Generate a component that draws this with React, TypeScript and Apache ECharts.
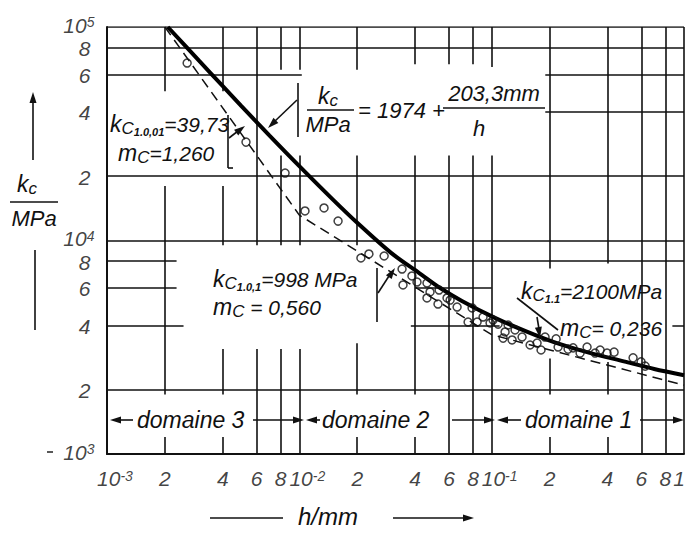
import React, { useEffect, useRef } from "react";
import * as echarts from "echarts";

const FONT = "'Liberation Sans', Arial, sans-serif";
const INK = "#111";

// ---- axis ticks (log-log) ----
const xTickValues = [1e-3, 2e-3, 4e-3, 6e-3, 8e-3, 1e-2, 2e-2, 4e-2, 6e-2, 8e-2, 1e-1, 2e-1, 4e-1, 6e-1, 8e-1, 1];
const xTickLabels = ["10^-3", "2", "4", "6", "8", "10^-2", "2", "4", "6", "8", "10^-1", "2", "4", "6", "8", "1"];
const yTickValues = [1e5, 8e4, 6e4, 4e4, 2e4, 1e4, 8e3, 6e3, 4e3, 2e3, 1e3];
const yTickLabels = ["10^5", "8", "6", "4", "2", "10^4", "8", "6", "4", "2", "10^3"];

// ---- thick curve kc/MPa = 1974 + 203,3mm/h ----
const curveH = [2.07e-3, 3e-3, 4e-3, 5e-3, 7e-3, 1e-2, 1.5e-2, 2e-2, 3e-2, 4.2e-2, 5.4e-2, 7e-2, 0.104, 0.149, 0.209, 0.313, 0.5, 0.7, 1.0];
const curveKc = [100000, 69700, 52800, 42600, 31000, 22300, 15500, 12100, 8750, 7040, 5990, 5210, 4340, 3770, 3350, 3000, 2700, 2500, 2340];

// ---- dashed Kienzle straight lines (domain 3, 2, 1) ----
const kienzleH = [2e-3, 1e-2, 1e-1, 1];
const kienzleKc = [100000, 13150, 3620, 2100];

// ---- measured points (circles) ----
const measH = [
  2.61e-3, 5.28e-3, 8.43e-3, 1.07e-2, 1.344e-2, 1.59e-2, 2.09e-2, 2.3e-2, 2.76e-2, 3.42e-2,
  3.85e-2, 3.46e-2, 4.09e-2, 4.61e-2, 4.78e-2, 5.33e-2, 4.61e-2, 5.26e-2, 6.08e-2, 6.61e-2,
  5.86e-2, 7.91e-2, 7.54e-2, 8.4e-2, 9.02e-2, 9.81e-2, 0.108, 0.1174, 0.1217, 0.1323,
  0.1147, 0.1277, 0.1439, 0.1584, 0.1806, 0.1895, 0.2163, 0.2215, 0.2496, 0.2882,
  0.3133, 0.345, 0.3664, 0.398, 0.433, 0.5435, 0.598, 0.628, 0.1017, 0.1722, 0.265,
];
const measKc = [
  67800, 28900, 20700, 13750, 14200, 12330, 8280, 8650, 8460, 7350,
  6820, 6190, 6390, 6320, 5740, 5860, 5380, 5040, 5260, 4880,
  5380, 4830, 4150, 4150, 4380, 4110, 4060, 3730, 4020, 3810,
  3490, 3420, 3530, 3240, 3070, 3530, 3460, 3170, 3100, 2970,
  3170, 2970, 3070, 2970, 3000, 2820, 2700, 2580, 4240, 3310, 3140,
];

// ---- partial grid of the printed chart: vertical [h, kcFrom, kcTo], horizontal [kc, hFrom, hTo] ----
const gridVertical: [number, number, number][] = [
  [2e-3, 1e5, 5e4], [2e-3, 1.8e4, 1.9e3], [2e-3, 1.2e3, 1e3],
  [4e-3, 1e5, 5e4], [4e-3, 1.8e4, 9.5e3], [4e-3, 3.1e3, 1.9e3], [4e-3, 1.2e3, 1e3],
  [6e-3, 1e5, 9.5e3], [6e-3, 3.1e3, 1e3],
  [8e-3, 1e5, 6.3e4], [8e-3, 2.5e4, 9.5e3], [8e-3, 3.1e3, 1e3],
  [1e-2, 1e5, 6.3e4], [1e-2, 2.5e4, 9.5e3], [1e-2, 3.1e3, 1e3],
  [2e-2, 1e5, 6.3e4], [2e-2, 2.5e4, 9.5e3], [2e-2, 3.3e3, 1.9e3], [2e-2, 1.2e3, 1e3],
  [4e-2, 1e5, 6.7e4], [4e-2, 2.5e4, 1.9e3], [4e-2, 1.2e3, 1e3],
  [6e-2, 1e5, 6.7e4], [6e-2, 2.5e4, 1e3],
  [8e-2, 1e5, 6.7e4], [8e-2, 2.5e4, 1e3],
  [1e-1, 1e5, 6.5e4], [1e-1, 2.5e4, 1e3],
  [2e-1, 1e5, 7.4e3], [2e-1, 2.8e3, 1.9e3], [2e-1, 1.2e3, 1e3],
  [4e-1, 1e5, 7.8e3], [4e-1, 2.7e3, 1.9e3], [4e-1, 1.2e3, 1e3],
  [6e-1, 1e5, 1e3], [8e-1, 1e5, 1e3], [1, 1e5, 1e3],
];
const gridHorizontal: [number, number, number][] = [
  [1e5, 1e-3, 1], [8e4, 1e-3, 1], [6e4, 1e-3, 1.03e-2], [6e4, 0.19, 1], [4e4, 0.19, 1],
  [2e4, 1e-3, 1], [1e4, 1e-3, 1],
  [8e3, 1e-3, 2.3e-3], [8e3, 3.8e-2, 1],
  [6e3, 1e-3, 2.3e-3], [6e3, 4e-2, 0.1],
  [4e3, 1e-3, 2.5e-3], [4e3, 3.8e-2, 0.11], [4e3, 0.87, 1],
  [2e3, 1e-3, 1],
];

const supFmt = (t: string) => {
  const [b, e] = t.split("^");
  return e ? `{b|${b}}{s|${e}}` : `{b|${t}}`;
};

const tickRich = {
  b: { fontSize: 21, fontStyle: "italic", fontFamily: FONT, color: INK, lineHeight: 20 },
  s: { fontSize: 14, fontStyle: "italic", fontFamily: FONT, color: INK, lineHeight: 4, verticalAlign: "top" },
};

// graphic helpers
const gLine = (x1: number, y1: number, x2: number, y2: number, w = 1.6) => ({
  type: "line", silent: true, z: 100,
  shape: { x1, y1, x2, y2 }, style: { stroke: INK, lineWidth: w },
});
const gHead = (tx: number, ty: number, ang: number, len = 11, half = 3.5) => {
  const c = Math.cos(ang), s = Math.sin(ang);
  const bx = tx - len * c, by = ty - len * s;
  return {
    type: "polygon", silent: true, z: 100,
    shape: { points: [[tx, ty], [bx - half * s, by + half * c], [bx + half * s, by - half * c]] },
    style: { fill: INK },
  };
};
const gRich = {
  k: { fontSize: 23, fontStyle: "italic", fontFamily: FONT, fill: INK, lineHeight: 26 },
  n: { fontSize: 21, fontStyle: "italic", fontFamily: FONT, fill: INK, lineHeight: 26 },
  c: { fontSize: 17, fontStyle: "italic", fontFamily: FONT, fill: INK, lineHeight: 17, verticalAlign: "bottom" },
  d: { fontSize: 11, fontStyle: "italic", fontWeight: "bold", fontFamily: FONT, fill: INK, lineHeight: 12, verticalAlign: "bottom" },
};
const gText = (x: number, y: number, text: string, align = "left", size = 22) => ({
  type: "text", silent: true, z: 100, x, y,
  style: {
    text, rich: gRich, fontFamily: FONT, fontStyle: "italic", fontSize: size, fill: INK,
    align, verticalAlign: "middle",
  },
});

const graphic = [
  // y axis title
  gLine(33, 100, 33, 160), gHead(33, 92, -Math.PI / 2),
  gText(17, 184, "{k|k}{c|c}"), gLine(10, 202, 58, 202), gText(34, 218, "MPa", "center", 22),
  gLine(35, 250, 35, 330),
  gLine(47, 452, 53, 452, 1.4),
  // x axis title
  gLine(210, 518, 283, 518), gText(298, 516, "h/mm", "left", 24),
  gLine(393, 518, 465, 518), gHead(474, 518, 0),
  // domains
  gHead(110, 420, Math.PI), gLine(118, 420, 133, 420), gText(137, 420, "domaine 3", "left", 23),
  gLine(253, 420, 296, 420), gHead(304, 420, 0),
  gHead(306, 420, Math.PI), gLine(314, 420, 320, 420), gText(322, 420, "domaine 2", "left", 23),
  gLine(452, 420, 487, 420), gHead(495, 420, 0),
  gHead(497, 420, Math.PI), gLine(505, 420, 521, 420), gText(525, 420, "domaine 1", "left", 23),
  gLine(640, 420, 676, 420), gHead(684, 420, 0),
  // annotation domain 3
  gText(110, 124, "{k|k}{c|C}{d|1.0,01}{n|=39,73}"),
  gText(118, 153, "{k|m}{c|C}{n|=1,260}"),
  gLine(228, 115, 228, 168), gLine(228, 168, 233, 168),
  gLine(229, 138, 238, 131), gHead(245, 126, Math.atan2(-12, 16)),
  // formula
  gLine(298, 83, 298, 137),
  gLine(297, 100, 274, 122), gHead(268, 128, Math.atan2(28, -29)),
  gText(318, 96, "{k|k}{c|c}"), gLine(307, 110, 354, 110), gText(328, 124, "MPa", "center", 22),
  gText(358, 110, "= 1974 +", "left", 22),
  gText(494, 93, "203,3mm", "center", 22), gLine(443, 108, 545, 108), gText(479, 128, "h", "center", 22),
  // annotation domain 2
  gText(213, 279, "{k|k}{c|C}{d|1.0,1}{n|=998 MPa}"),
  gText(213, 307, "{k|m}{c|C}{n| = 0,560}"),
  gLine(377, 268, 377, 322),
  gLine(378, 293, 389, 276), gHead(395, 268, Math.atan2(-25, 17)),
  // annotation domain 1
  gText(521, 291, "{k|k}{c|C}{d|1.1}{n|=2100MPa}"),
  gText(560, 328, "{k|m}{c|C}{n|= 0,236}"),
  gLine(517, 298, 558, 330),
  gLine(537, 317, 539, 329), gHead(540, 338, Math.atan2(20, 3)),
];

const option: any = {
  animation: false,
  backgroundColor: "#fff",
  grid: { left: 107, right: 1, top: 27, bottom: 80, show: false },
  xAxis: {
    type: "log", logBase: 10, min: 1e-3, max: 1,
    axisLine: { show: true, onZero: false, lineStyle: { color: INK, width: 2 } },
    axisTick: { show: false }, axisLabel: { show: false }, splitLine: { show: false },
  },
  yAxis: {
    type: "log", logBase: 10, min: 1e3, max: 1e5,
    axisLine: { show: true, onZero: false, lineStyle: { color: INK, width: 2 } },
    axisTick: { show: false }, axisLabel: { show: false }, splitLine: { show: false },
  },
  series: [
    {
      type: "lines", coordinateSystem: "cartesian2d", silent: true, z: 1,
      lineStyle: { color: INK, width: 1.6, opacity: 1 },
      data: [
        ...gridVertical.map(([x, a, b]) => ({ coords: [[x, a], [x, b]] })),
        ...gridHorizontal.map(([y, a, b]) => ({ coords: [[a, y], [b, y]] })),
      ],
    },
    {
      type: "line", z: 3, showSymbol: false, smooth: 0.3, clip: true,
      lineStyle: { color: "#000", width: 4 },
      data: curveH.map((h, i) => [h, curveKc[i]]),
    },
    {
      type: "line", z: 2, showSymbol: false,
      lineStyle: { color: INK, width: 1.5, type: [10, 6] },
      data: kienzleH.map((h, i) => [h, kienzleKc[i]]),
    },
    {
      type: "scatter", z: 4, symbol: "circle", symbolSize: 8,
      itemStyle: { color: "rgba(255,255,255,0)", borderColor: INK, borderWidth: 1.5 },
      data: measH.map((h, i) => [h, measKc[i]]),
    },
    {
      type: "scatter", z: 5, silent: true, clip: false, symbolSize: 1,
      itemStyle: { color: "rgba(0,0,0,0)" },
      data: yTickValues.map((v, i) => ({
        value: [1e-3, v],
        label: yTickLabels[i].includes("^") ? { distance: 12, offset: [0, -2] } : { distance: 16, offset: [0, 1] },
      })),
      label: {
        show: true, position: "left", rich: tickRich,
        formatter: (p: any) => supFmt(yTickLabels[p.dataIndex]),
      },
    },
    {
      type: "scatter", z: 5, silent: true, clip: false, symbolSize: 1,
      itemStyle: { color: "rgba(0,0,0,0)" },
      data: xTickValues.map((v, i) => ({
        value: [v, 1e3],
        label: { offset: xTickLabels[i].includes("^") ? [8, 0] : i === xTickValues.length - 1 ? [-5, 0] : [0, 0] },
      })),
      label: {
        show: true, position: "bottom", distance: 14, rich: tickRich,
        formatter: (p: any) => supFmt(xTickLabels[p.dataIndex]),
      },
    },
  ],
  graphic,
};

export default function App() {
  const ref = useRef<HTMLDivElement>(null);
  useEffect(() => {
    const chart = echarts.init(ref.current as HTMLDivElement, undefined, { renderer: "svg" });
    chart.setOption(option);
    return () => chart.dispose();
  }, []);
  return (
    <div
      ref={ref}
      style={{ position: "fixed", left: 0, top: 0, width: 685, height: 534, background: "#fff" }}
    />
  );
}
